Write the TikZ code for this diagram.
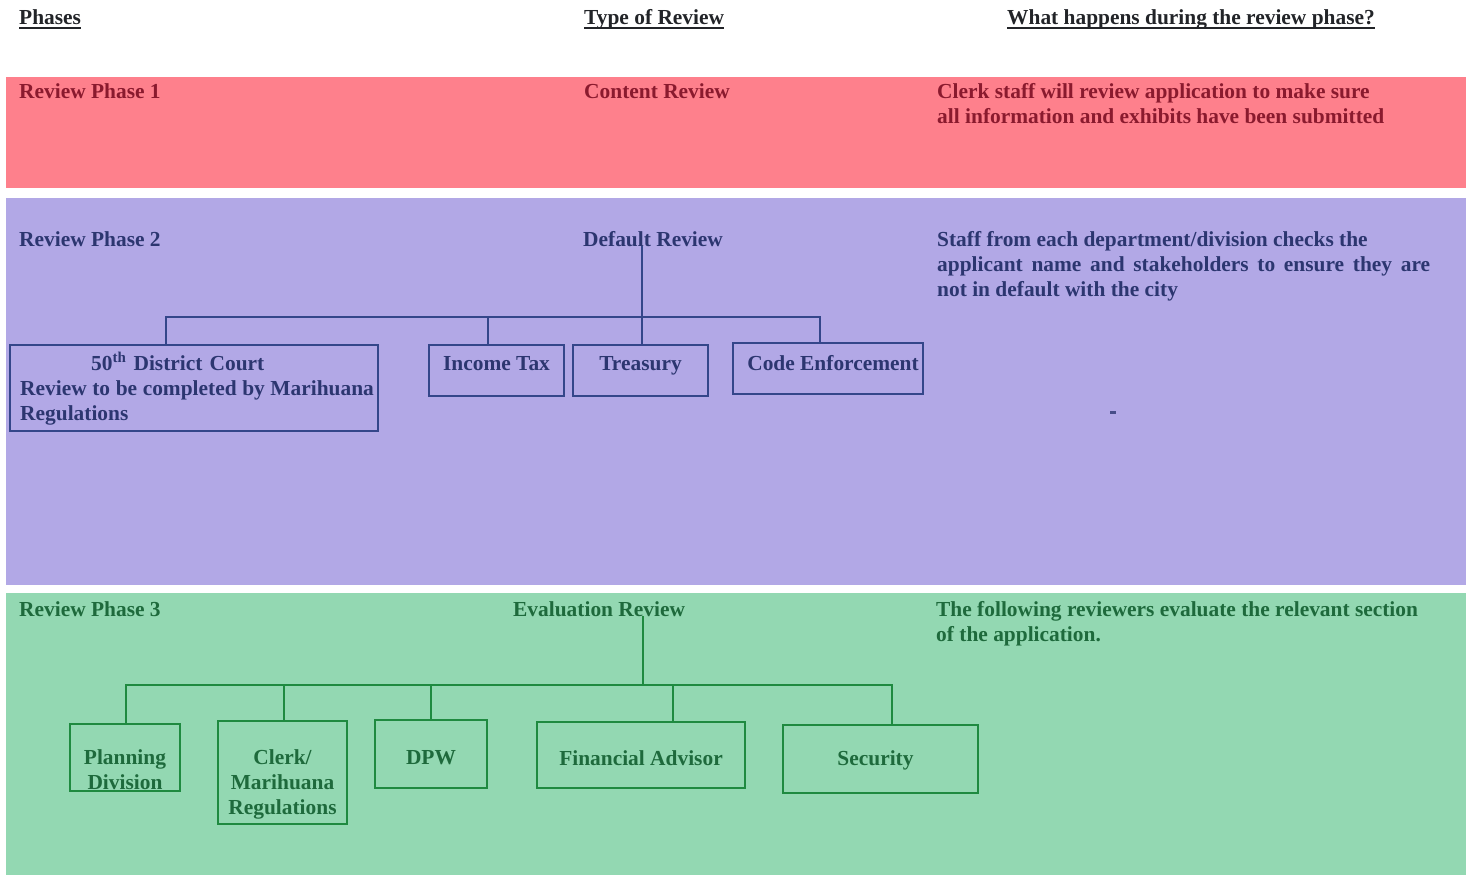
\documentclass[tikz,border=0pt]{standalone}
\usepackage{fontspec}
\setmainfont{Liberation Serif}
\definecolor{hdrc}{HTML}{222428}
\definecolor{bandA}{HTML}{FE808C}
\definecolor{bandB}{HTML}{B2A8E6}
\definecolor{bandC}{HTML}{93D8B2}
\definecolor{textA}{HTML}{8A1A2E}
\definecolor{textB}{HTML}{2C3670}
\definecolor{textC}{HTML}{1E6A3C}
\definecolor{lineB}{HTML}{34468A}
\definecolor{lineC}{HTML}{1F8A40}
\newcommand\uline[1]{\setbox0=\hbox{#1}\leavevmode\rlap{\rule[-4pt]{\wd0}{1.8pt}}\box0}
\newcommand\bx[3]{\rule{0pt}{#1pt}#3\rule[-#2pt]{0pt}{#2pt}}
\newcommand\fl{\rule{0pt}{16pt}}
\tikzset{
  txt/.style={inner sep=0pt, font=\bfseries\fontsize{21.4}{25}\selectfont},
  hdr/.style={txt, text=hdrc, anchor=base west},
  tA/.style={txt, text=textA},
  tB/.style={txt, text=textB},
  tC/.style={txt, text=textC},
  boxB/.style={txt, draw=lineB, line width=2.4pt, text=textB, inner xsep=0pt, inner ysep=0pt, align=center, anchor=north},
  boxC/.style={txt, draw=lineC, line width=2.4pt, text=textC, inner xsep=0pt, inner ysep=0pt, align=center, anchor=north},
  linkB/.style={draw=lineB, line width=2.2pt},
  linkC/.style={draw=lineC, line width=2.2pt}
}
\begin{document}
\begin{tikzpicture}[x=1pt,y=-1pt]
\useasboundingbox (0,0) rectangle (1469,875);
% bands
\fill[bandA] (6,77) rectangle (1466,188);
\fill[bandB] (6,198) rectangle (1466,585);
\fill[bandC] (6,593) rectangle (1466,875);
\fill[textB!80!bandB] (1110,411) rectangle (1116,414);
% headers
\node[hdr] (hPhases) at (19,25) {\uline{Phases}};
\node[hdr] (hType) at (584,25) {\uline{Type of Review}};
\node[hdr] (hWhat) at (1007,25) {\uline{What happens during the review phase?}};
% phase 1
\node[tA, anchor=base west] (p1) at (19,98) {Review Phase 1};
\node[tA, anchor=base west] (r1) at (584,98) {Content Review};
\node[tA, anchor=north west, align=left] (d1) at (937,82) {\fl Clerk staff will review application to make sure\\all information and exhibits have been submitted};
% phase 2
\node[tB, anchor=base west] (p2) at (19,246) {Review Phase 2};
\node[tB, anchor=base west] (r2) at (583,246) {Default Review};
\node[tB, anchor=north west, align=left] (d2) at (937,230) {\fl Staff from each department/division checks the\\\makebox[493pt][s]{applicant name and stakeholders to ensure they are}\\not in default with the city};
\node[boxB, anchor=north west, align=left, text width=348pt, inner xsep=10pt] (court) at (9,344)
  {\rule{0pt}{25pt}\hspace*{71pt}50\textsuperscript{th} District Court\\\mbox{\spaceskip=5.6pt Review to be completed by Marihuana}\\Regulations\rule[-11pt]{0pt}{11pt}};
\node[boxB, minimum width=135pt] (inc) at (496.5,344) {\bx{25}{26}{Income Tax}};
\node[boxB, minimum width=135pt] (trea) at (640.5,344) {\bx{25}{26}{Treasury}};
\node[boxB, minimum width=190pt] (code) at (828,342) {\bx{27}{24}{\hspace*{10pt}Code Enforcement}};
\coordinate (bus2) at (0,317);
\draw[linkB] ([xshift=-28pt]court.north) -- ([xshift=-28pt]court.north |- bus2) -| ([xshift=-8pt]code.north);
\draw[linkB] ([xshift=-8.5pt]inc.north) -- ([xshift=-8.5pt]inc.north |- bus2);
\draw[linkB] ([xshift=1.5pt]trea.north) -- ([xshift=1.5pt]trea.north |- r2.south);
% phase 3
\node[tC, anchor=base west] (p3) at (19,616) {Review Phase 3};
\node[tC, anchor=base west] (r3) at (513,616) {Evaluation Review};
\node[tC, anchor=north west, align=left] (d3) at (936,600) {\fl The following reviewers evaluate the relevant section\\of the application.};
\node[boxC, minimum width=110pt] (plan) at (125,723) {\bx{40}{2}{Planning\\Division}};
\node[boxC, minimum width=129pt] (clerk) at (282.5,720) {\bx{43}{10}{Clerk/\\Marihuana\\Regulations}};
\node[boxC, minimum width=112pt] (dpw) at (431,719) {\bx{44}{24}{DPW}};
\node[boxC, minimum width=208pt] (fin) at (641,721) {\bx{43}{23}{Financial Advisor}};
\node[boxC, minimum width=195pt] (sec) at (880.5,724) {\bx{40}{28}{\hspace*{-10pt}Security}};
\coordinate (bus3) at (0,685);
\draw[linkC] ([xshift=1pt]plan.north) -- ([xshift=1pt]plan.north |- bus3) -| ([xshift=11.5pt]sec.north);
\draw[linkC] ([xshift=1.5pt]clerk.north) -- ([xshift=1.5pt]clerk.north |- bus3);
\draw[linkC] (dpw.north) -- (dpw.north |- bus3);
\draw[linkC] ([xshift=32pt]fin.north) -- ([xshift=32pt]fin.north |- bus3);
\draw[linkC] ([xshift=44pt]r3.south) -- ([xshift=44pt]r3.south |- bus3);
\end{tikzpicture}
\end{document}
